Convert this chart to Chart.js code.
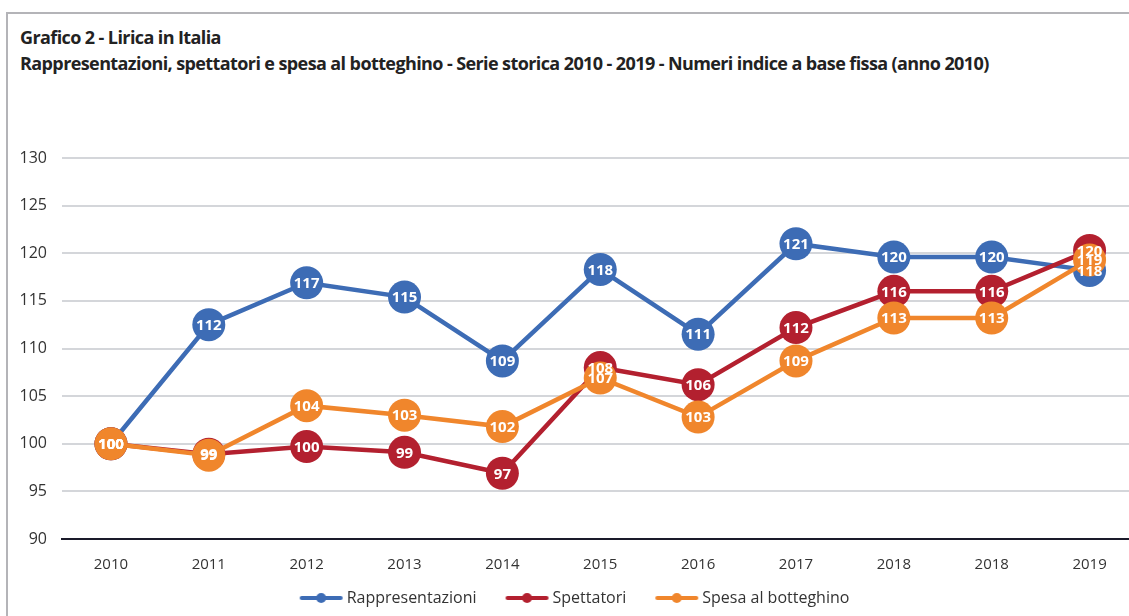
<!DOCTYPE html>
<html><head><meta charset="utf-8">
<script src="https://cdn.jsdelivr.net/npm/chart.js@4"></script>
<style>
html,body{margin:0;padding:0;background:#fff;overflow:hidden;width:1129px;height:616px;}
#frame{position:absolute;left:6px;top:12px;width:1160px;height:620px;border-left:2px solid #b4b4b8;border-top:2px solid #b4b4b8;}
.t{position:absolute;left:20px;font-family:"Open Sans",sans-serif;font-weight:700;font-size:18px;line-height:20px;color:#222;white-space:nowrap;letter-spacing:-0.6px;}
#wrap{position:absolute;left:-20px;top:0;width:1175px;height:616px;}
canvas{display:block;width:1175px;height:616px;}
</style></head><body>
<div id="frame"></div>
<div class="t" id="t1" style="top:27px">Grafico 2 - Lirica in Italia</div>
<div class="t" id="t2" style="top:53px">Rappresentazioni, spettatori e spesa al botteghino - Serie storica 2010 - 2019 - Numeri indice a base fissa (anno 2010)</div>
<div id="wrap"><canvas id="c" width="1175" height="616"></canvas></div>
<script>
const categories = ["2010","2011","2012","2013","2014","2015","2016","2017","2018","2018","2019"];
const rappresentazioni = [100, 112.5, 116.9, 115.4, 108.7, 118.3, 111.5, 121.0, 119.6, 119.6, 118.2];
const spettatori       = [100, 98.9, 99.7, 99.1, 96.9, 108.0, 106.2, 112.2, 116.0, 116.0, 120.3];
const spesa            = [100, 98.8, 104.0, 103.0, 101.8, 106.9, 102.8, 108.7, 113.2, 113.2, 119.3];
const labelsRapp = [100,112,117,115,109,118,111,121,120,120,118];
const labelsSpet = [100,99,100,99,97,108,106,112,116,116,120];
const labelsSpesa = [100,99,104,103,102,107,103,109,113,113,119];
const yTicks = [90,95,100,105,110,115,120,125,130];

const BLUE="#3d6cb5", RED="#b3202f", ORANGE="#f0862c";
function legendIcon(color){
  const c=document.createElement('canvas'); c.width=66; c.height=12;
  const g=c.getContext('2d');
  g.strokeStyle=color; g.lineWidth=4; g.lineCap='round';
  g.beginPath(); g.moveTo(24,6); g.lineTo(63,6); g.stroke();
  g.fillStyle=color; g.beginPath(); g.arc(43.5,6,5,0,Math.PI*2); g.fill();
  return c;
}
const printed=[labelsRapp,labelsSpet,labelsSpesa];
const labelPlugin={
  id:'pl',
  afterDatasetsDraw(chart){
    const ctx=chart.ctx;
    ctx.save();
    ctx.font='bold 15px "Open Sans", sans-serif';
    ctx.fillStyle='#fff'; ctx.textAlign='center'; ctx.textBaseline='middle';
    [0,1,2].forEach(i=>{
      chart.getDatasetMeta(i).data.forEach((p,j)=>{ ctx.fillText(String(printed[i][j]), p.x, p.y+1); });
    });
    ctx.restore();
  }
};
function ds(label,data,color,order){
  return {label,data,borderColor:color,backgroundColor:color,pointBackgroundColor:color,
    pointBorderColor:color,pointRadius:16.5,pointHoverRadius:16.5,borderWidth:4.5,pointBorderWidth:0,
    tension:0,order,pointStyle:'circle'};
}
new Chart(document.getElementById('c'),{
  type:'line',
  data:{labels:categories,datasets:[
    ds('Rappresentazioni',rappresentazioni,BLUE,3),
    ds('Spettatori',spettatori,RED,2),
    ds('Spesa al botteghino',spesa,ORANGE,1)
  ]},
  plugins:[labelPlugin],
  options:{
    responsive:false,animation:false,
    layout:{padding:{left:0,right:3,top:158,bottom:0}},
    plugins:{
      tooltip:{enabled:false},
      legend:{position:'bottom',
        labels:{usePointStyle:true,pointStyleWidth:56,padding:12,font:{family:'"Open Sans", sans-serif',size:16},color:'#333',
          generateLabels(chart){
            return chart.data.datasets.map((d,i)=>({text:d.label,fillStyle:d.borderColor,strokeStyle:d.borderColor,
              pointStyle:legendIcon(d.borderColor),datasetIndex:i,lineWidth:0,hidden:false,fontColor:'#333'}));
          }}
      }
    },
    scales:{
      x:{offset:true,grid:{display:false},border:{display:true,color:'#1a1a2a',width:2},
        afterFit(s){s.height=39;},
        ticks:{color:'#333',font:{family:'"Open Sans", sans-serif',size:15},padding:9,autoSkip:false,maxRotation:0}},
      y:{min:90,max:130,afterFit(s){s.width=82;},
        afterBuildTicks(s){s.ticks=yTicks.map(v=>({value:v}));},
        grid:{color:'#d4d6da',lineWidth:2,drawTicks:false},border:{display:false},
        ticks:{color:'#333',font:{family:'"Open Sans", sans-serif',size:16},padding:15}}
    }
  }
});
</script>
</body></html>
